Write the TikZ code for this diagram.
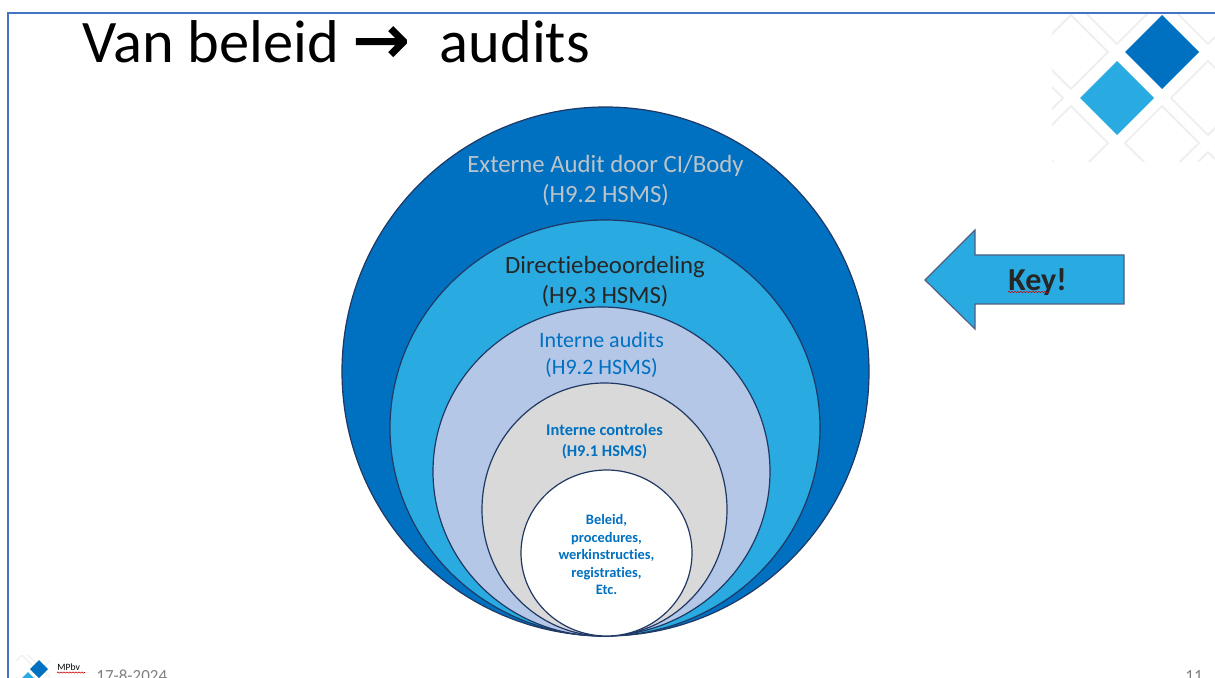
\documentclass[tikz,border=0pt]{standalone}
\usepackage{fontspec}
\setmainfont[Ligatures=NoCommon]{Carlito}
\newfontfamily\arrowfont[FakeBold=2]{DejaVu Sans}
\usetikzlibrary{positioning,shapes.geometric,decorations.pathmorphing}
\definecolor{mpDark}{HTML}{0070C0}
\definecolor{mpLight}{HTML}{29ABE2}
\definecolor{mpLav}{HTML}{B4C7E7}
\definecolor{mpGrey}{HTML}{D9D9D9}
\definecolor{mpSoft}{HTML}{BCC4CA}
\definecolor{mpLine}{HTML}{203864}
\definecolor{mpFrame}{HTML}{4472C4}
\definecolor{mpPale}{HTML}{EDEDED}
\tikzstyle{styCir}=[ellipse,draw=mpLine,line width=0.6pt,inner sep=0pt,outer sep=0pt,anchor=south]
\tikzstyle{styLab}=[align=center,inner sep=0pt,anchor=north]
\tikzstyle{styBig}=[styLab,font=\fontsize{12.4}{14.8}\selectfont]
\tikzstyle{styMid}=[styLab,font=\fontsize{11}{13.6}\selectfont,text=mpDark]
\tikzstyle{stySma}=[styLab,font=\fontsize{8.2}{10.1}\selectfont\bfseries,text=mpDark]
\tikzstyle{styTin}=[styLab,font=\fontsize{7.2}{8.75}\selectfont\bfseries,text=mpDark]
\tikzstyle{styDia}=[diamond,inner sep=0pt,outer sep=0pt,minimum width=37pt,minimum height=37pt]
\tikzstyle{styPal}=[styDia,draw=mpPale,line width=0.75pt]
\tikzstyle{styFoo}=[inner sep=0pt,anchor=base west,text=gray,font=\fontsize{8.5}{10}\selectfont]
\tikzstyle{stySqu}=[red!80!black,line width=0.3pt,decorate,decoration={snake,amplitude=0.3pt,segment length=1.5pt}]

\begin{document}
\begin{tikzpicture}[x=0.5pt,y=-0.5pt]
\useasboundingbox (0,0) rectangle (1215,678);
\fill[white] (0,0) rectangle (1215,678);

% frame
\coordinate (frmA) at (8,678);
\coordinate (frmB) at (8,13);
\coordinate (frmC) at (1215,13);
\draw[mpFrame,line width=0.8pt] (frmA) -- (frmB) -- (frmC);

% corner pattern
\begin{scope}
\clip (1052,15) rectangle (1215,162);
\foreach \cx/\cy in {1071/52,1117/7,1208/7,1208/98,1071/143,1162/143,1208/189,1026/98}
  \node[styPal] at (\cx,\cy) {};
\end{scope}
\node[styDia,fill=mpDark] (diaDark) at (1162,52) {};
\node[styDia,fill=mpLight] (diaLight) at (1117,98) {};

% title
\node[inner sep=0pt,anchor=base west,font=\fontsize{30.2}{32}\selectfont] (txtTitle) at (82,63)
  {Van beleid {\fontsize{34}{34}\selectfont\arrowfont →}\hspace{0.5em}audits};

% circles
\node[styCir,fill=mpDark,minimum width=263.5pt,minimum height=264.5pt] (cirExt) at (605.5,636) {};
\node[styCir,fill=mpLight,minimum width=215pt,minimum height=208pt] (cirDir) at (605,636) {};
\node[styCir,fill=mpLav,minimum width=168.5pt,minimum height=164.5pt] (cirInt) at (601.5,636) {};
\node[styCir,fill=mpGrey,minimum width=122.5pt,minimum height=126.5pt] (cirCon) at (604.5,636) {};
\node[styCir,fill=white,minimum width=85.5pt,minimum height=83pt] (cirBel) at (606.5,636) {};

% labels
\node[styBig,text=mpSoft,below=24pt of cirExt.north] (labExt) {Externe Audit door CI/Body\\(H9.2 HSMS)};
\node[styBig,text=black!85,below=18pt of cirDir.north] (labDir) {Directiebeoordeling\\(H9.3 HSMS)};
\node[styMid,below=12.5pt of cirInt.north] (labInt) {Interne audits\\(H9.2 HSMS)};
\node[stySma,below=20.5pt of cirCon.north] (labCon) {Interne controles\\(H9.1 HSMS)};
\node[styTin,below=22pt of cirBel.north] (labBel) {Beleid,\\procedures,\\werkinstructies,\\registraties,\\Etc.};

% key arrow
\draw[fill=mpLight,draw=mpLine!80,line width=0.6pt] (925,280) -- (975,230) -- (975,255) -- (1124,255) -- (1124,304) -- (975,304) -- (975,329) -- cycle;
\node[shape=rectangle,inner sep=0pt] (txtKey) at (1037.5,282) {\fontsize{16}{18}\selectfont\bfseries\textcolor{black!85}{Key!}};
\coordinate (squKeyA) at (1008,292);
\coordinate (squKeyB) at (1048,292);
\draw[stySqu] (squKeyA) -- (squKeyB);

% footer
\begin{scope}
\clip (16,655) rectangle (50,678);
\foreach \cx/\cy in {25/669,39/655,39/683}
  \node[styPal,minimum width=17pt,minimum height=17pt,line width=0.4pt] at (\cx,\cy) {};
\end{scope}
\node[styDia,fill=mpDark,minimum width=9pt,minimum height=9pt] (logDark) at (39,669) {};
\node[styDia,fill=mpLight,minimum width=9pt,minimum height=9pt] (logLight) at (28,681) {};
\node[styFoo,text=black,font=\fontsize{4.8}{6}\selectfont] (txtMpb) at (57,670) {MPbv};
\coordinate (squMpbA) at (57,672.5);
\coordinate (squMpbB) at (85,672.5);
\draw[stySqu] (squMpbA) -- (squMpbB);
\node[styFoo] (txtDate) at (96,681) {17-8-2024};
\node[styFoo] (txtPage) at (1185,681) {11};
\end{tikzpicture}
\end{document}
